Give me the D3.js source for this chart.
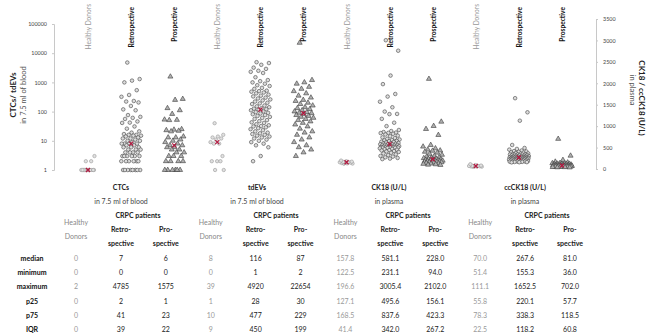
<!DOCTYPE html>
<html><head><meta charset="utf-8">
<script src="https://cdn.jsdelivr.net/npm/d3@7"></script>
<style>
html,body{margin:0;padding:0;background:#fff;}
svg{display:block;font-family:Lato,"Open Sans",sans-serif;}
</style></head>
<body><svg id="c" width="650" height="333"></svg>
<script>
// ---- categories ----
const markers = ["CTCs", "tdEVs", "CK18", "ccCK18"];
const cohorts = ["Healthy Donors", "Retrospective", "Prospective"];
const leftTicks = [1, 10, 100, 1000, 10000, 100000];
const rightTicks = [0, 500, 1000, 1500, 2000, 2500, 3000, 3500];

// ---- point values (CTC / tdEV are counts, plotted as count+1 on log axis; CK18 in U/L) ----
const ctcHealthy = [0,0,0,0,0,0,0,0,0,0,0,0,1,1,2];
const ctcRetro = [4785,1300,1150,1000,540,370,320,230,220,205,155,118,110,75,65,60,55,45,41,40,
  30,25,20,18,16,15,15,14,14,13,12,11,11,10,9,9,8,7,7,7,7,6,6,5,5,5,4,4,4,3,3,3,3,2,2,2,2,2,2,
  1,1,1,1,1,1,0,0,0,0,0,0,0,0];
const ctcPro = [1575,270,250,130,110,82,52,51,50,24,23,22,21,20,13,12,12,10,9,8,7,6,6,5,5,4,4,3,3,2,2,2,1,1,1,1,0,0,0,0,0,0];
const tdevHealthy = [39,15,13,12,11,10,8,7,7,2,1,1,1,0,0];
const tdevRetro = [4920,4600,4000,3200,2900,2500,2300,2100,1500,1200,1100,1000,900,800,750,650,600,520,500,480,
  450,420,380,350,330,300,280,260,240,220,200,190,180,160,150,140,130,125,120,116,
  110,100,95,90,85,80,75,70,65,60,55,50,46,42,40,36,33,31,30,28,
  26,24,22,20,18,17,16,15,14,13,12,11,10,9,8,7,6,5,2,1];
const tdevPro = [22654,1200,1000,900,700,600,500,420,350,300,250,230,
  200,180,160,140,130,120,110,100,95,90,87,
  80,75,70,65,60,55,50,45,40,35,30,
  25,20,18,15,12,10,8,6,5,4,3,2];
const ck18Healthy = [122.5,127,131,139,148,154,158,161,166,171,182,196.6];
const ck18Retro = [3005,2760,2180,1980,1750,1690,1570,1440,1340,1285,1280,1170,1080,1000,910,885,862,850,843,838,
  822,805,779,764,738,721,704,689,676,668,655,648,637,629,618,607,601,593,588,581,
  576,569,563,561,552,548,544,539,533,529,522,518,514,509,506,502,500,498,497,496,
  489,482,468,461,449,438,431,418,409,398,379,362,341,322,305,289,272,258,243,231];
const ck18Pro = [2102,1103,1003,933,793,560,522,481,452,431,425,
  402,381,352,331,303,289,272,261,252,241,236,228,
  219,211,206,199,194,191,184,179,176,171,166,161,157,
  150,141,131,126,119,109,101,94];
const ccHealthy = [51.4,55,57,60,64,68,70,72,75,80,91,111.1];
const ccRetro = [1652,1323,1127,560,490,468,452,431,418,409,401,389,381,372,364,358,349,344,340,338,
  335,331,326,320,316,309,305,301,296,293,290,286,282,280,277,275,272,270,269,268,
  265,262,261,258,255,252,250,248,246,242,240,238,235,232,230,228,226,224,222,220,
  217,214,210,207,204,200,197,194,190,186,182,178,175,172,170,167,164,161,158,155];
const ccPro = [702,310,210,170,151,140,135,131,126,121,119,
  115,111,105,101,97,94,91,88,86,84,82,81,
  79,77,75,73,71,69,67,65,63,61,60,59,58,
  55,52,50,47,45,42,39,36];

// ---- table ----
const rowLabels = ["median", "minimum", "maximum", "p25", "p75", "IQR"];
const ctcTable = [["0","7","6"],["0","0","0"],["2","4785","1575"],["0","2","1"],["0","41","23"],["0","39","22"]];
const tdevTable = [["8","116","87"],["0","1","2"],["39","4920","22654"],["1","28","30"],["10","477","229"],["9","450","199"]];
const ck18Table = [["157.8","581.1","228.0"],["122.5","231.1","94.0"],["196.6","3005.4","2102.0"],["127.1","495.6","156.1"],["168.5","837.6","423.3"],["41.4","342.0","267.2"]];
const ccTable = [["70.0","267.6","81.0"],["51.4","155.3","36.0"],["111.1","1652.5","702.0"],["55.8","220.1","57.7"],["78.3","338.3","118.5"],["22.5","118.2","60.8"]];
const groupTitles = ["CTCs", "tdEVs", "CK18 (U/L)", "ccCK18 (U/L)"];
const groupSubs = ["in 7.5 ml of blood", "in 7.5 ml of blood", "in plasma", "in plasma"];
const medians = [[0,7,6],[8,116,87],[157.8,581.1,228.0],[70.0,267.6,81.0]];

const series = [
  [ctcHealthy, ctcRetro, ctcPro],
  [tdevHealthy, tdevRetro, tdevPro],
  [ck18Healthy, ck18Retro, ck18Pro],
  [ccHealthy, ccRetro, ccPro]
];
const tables = [ctcTable, tdevTable, ck18Table, ccTable];

// ---- drawing ----
const svg = d3.select("#c");
const keys = [];
markers.forEach(m => cohorts.forEach(c => keys.push(m + "|" + c)));
const x = d3.scalePoint().domain(keys).range([88, 562]);
const xt = d3.scalePoint().domain(keys).range([76, 570]);
const yL = d3.scaleLog().domain([1, 100000]).range([170, 24]);
const yR = d3.scaleLinear().domain([0, 3500]).range([169, 19]);
const FS = 7;

// axes
const axL = svg.append("g").attr("transform", "translate(54,0)")
  .call(d3.axisLeft(yL).tickValues(leftTicks).tickFormat(d3.format("d")).tickSize(2).tickPadding(5));
const axR = svg.append("g").attr("transform", "translate(596,0)")
  .call(d3.axisRight(yR).tickValues(rightTicks).tickFormat(d3.format("d")).tickSize(2).tickPadding(5));
[axL, axR].forEach(a => {
  a.selectAll("path,line").attr("stroke", "#c8c8c8");
  a.selectAll("text").attr("font-size", 5.4).attr("fill", "#444").attr("font-family", "Lato,sans-serif");
});

// axis titles
const lt = svg.append("g").attr("transform", "translate(13,95) rotate(-90)");
lt.append("text").attr("text-anchor", "middle").attr("dominant-baseline", "central")
  .attr("font-size", 8).attr("font-weight", "bold").attr("fill", "#222").text("CTCs/ tdEVs");
lt.append("text").attr("y", 10).attr("text-anchor", "middle").attr("dominant-baseline", "central")
  .attr("font-size", 7.5).attr("fill", "#555").text("in 7.5 ml of blood");
const rt = svg.append("g").attr("transform", "translate(642,98) rotate(90)");
rt.append("text").attr("text-anchor", "middle").attr("dominant-baseline", "central")
  .attr("font-size", 8).attr("font-weight", "bold").attr("fill", "#222").text("CK18 / ccCK18 (U/L)");
rt.append("text").attr("y", 10).attr("x", -8).attr("text-anchor", "middle").attr("dominant-baseline", "central")
  .attr("font-size", 7.5).attr("fill", "#555").text("in plasma");

// column header labels (rotated)
keys.forEach(k => {
  const c = k.split("|")[1];
  const healthy = c === "Healthy Donors";
  svg.append("text")
    .attr("transform", `translate(${x(k)},${healthy ? 4 : 7}) rotate(-90)`)
    .attr("text-anchor", "end").attr("dominant-baseline", "central")
    .attr("font-size", 6.6)
    .attr("font-weight", healthy ? "normal" : "bold")
    .attr("fill", healthy ? "#999" : "#111")
    .text(c);
});

// jitter (deterministic, layout only)
const jit = (i, w) => (((i * 0.6180339887 + 0.31) % 1) - 0.5) * 2 * w;
const widths = [7, 10, 10];
const tri = d3.symbol().type(d3.symbolTriangle).size(11);

series.forEach((grp, gi) => {
  const isLog = gi < 2;
  const yv = v => isLog ? yL(v + 1) : yR(v);
  grp.forEach((vals, ci) => {
    const k = markers[gi] + "|" + cohorts[ci];
    const cx = x(k);
    const w = widths[ci];
    const g = svg.append("g");
    vals.forEach((v, i) => {
      const px = cx + jit(i, w), py = yv(v);
      if (ci === 2) {
        g.append("path").attr("d", tri).attr("transform", `translate(${px},${py})`)
          .attr("fill", "#b0b0b0").attr("stroke", "#3a3a3a").attr("stroke-width", 0.6);
      } else if (ci === 1) {
        g.append("circle").attr("cx", px).attr("cy", py).attr("r", 1.8)
          .attr("fill", "#dcdcdc").attr("stroke", "#444").attr("stroke-width", 0.6);
      } else {
        g.append("circle").attr("cx", px).attr("cy", py).attr("r", 1.7)
          .attr("fill", "#e0e0e0").attr("stroke", "#9a9a9a").attr("stroke-width", 0.6);
      }
    });
    // median X
    const my = yv(medians[gi][ci]);
    const s = 2;
    g.append("path").attr("d", `M${cx-s},${my-s}L${cx+s},${my+s}M${cx-s},${my+s}L${cx+s},${my-s}`)
      .attr("stroke", "#b3173f").attr("stroke-width", 1.2).attr("fill", "none");
  });
});

// ---- table below ----
const gcx = [121, 257, 389, 525];
const crpcX = [138, 276, 408, 547];
groupTitles.forEach((t, gi) => {
  svg.append("text").attr("x", gcx[gi]).attr("y", 187).attr("text-anchor", "middle").attr("dominant-baseline", "central")
    .attr("font-size", FS).attr("font-weight", "bold").attr("fill", "#222").text(t);
  svg.append("text").attr("x", gcx[gi]).attr("y", 201).attr("text-anchor", "middle").attr("dominant-baseline", "central")
    .attr("font-size", FS).attr("fill", "#444").text(groupSubs[gi]);
  svg.append("text").attr("x", crpcX[gi]).attr("y", 215).attr("text-anchor", "middle").attr("dominant-baseline", "central")
    .attr("font-size", FS).attr("font-weight", "bold").attr("fill", "#222").text("CRPC patients");
  const kH = markers[gi] + "|" + cohorts[0], kR = markers[gi] + "|" + cohorts[1], kP = markers[gi] + "|" + cohorts[2];
  [["Healthy", 222], ["Donors", 236]].forEach(([t, yy]) => svg.append("text").attr("x", xt(kH)).attr("y", yy)
    .attr("text-anchor", "middle").attr("dominant-baseline", "central").attr("font-size", FS).attr("fill", "#888").text(t));
  [["Retro-", 229, kR], ["spective", 243, kR], ["Pro-", 229, kP], ["spective", 243, kP]].forEach(([t, yy, kk]) =>
    svg.append("text").attr("x", xt(kk)).attr("y", yy).attr("text-anchor", "middle").attr("dominant-baseline", "central")
      .attr("font-size", FS).attr("font-weight", "bold").attr("fill", "#222").text(t));
  tables[gi].forEach((row, ri) => {
    row.forEach((val, ci) => {
      const kk = markers[gi] + "|" + cohorts[ci];
      svg.append("text").attr("x", xt(kk)).attr("y", 258 + ri * 14.2).attr("text-anchor", "middle")
        .attr("dominant-baseline", "central").attr("font-size", FS)
        .attr("fill", ci === 0 ? "#999" : "#222").text(val);
    });
  });
});
rowLabels.forEach((r, ri) => {
  svg.append("text").attr("x", 32).attr("y", 258 + ri * 14.2).attr("text-anchor", "middle")
    .attr("dominant-baseline", "central").attr("font-size", FS).attr("font-weight", "bold").attr("fill", "#111").text(r);
});
</script>
</body></html>
